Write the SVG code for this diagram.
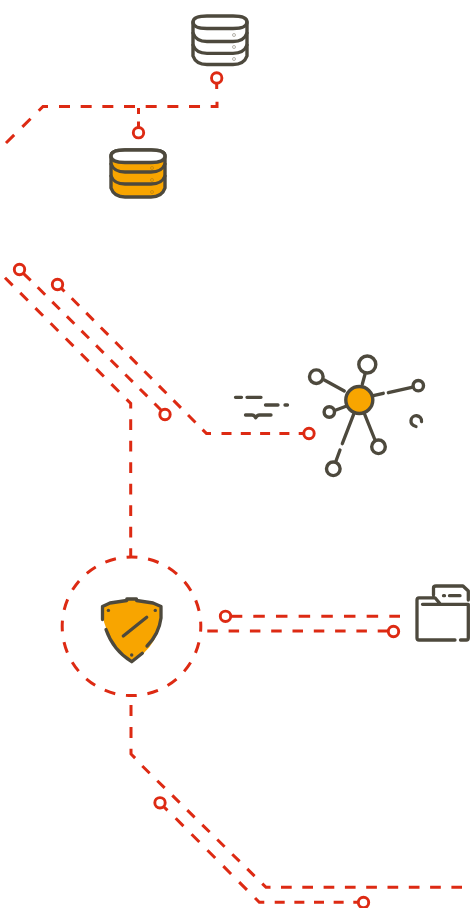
<svg xmlns="http://www.w3.org/2000/svg" width="470" height="908" viewBox="0 0 470 908">
<style>
path,circle{fill:none}
#connectors path,#connectors circle{stroke:#dd2a13;stroke-width:3}
#connectors circle.r{fill:#fff;stroke-width:2.9}
.i{stroke:#4d493d;stroke-width:3.3;stroke-linecap:round;stroke-linejoin:round}
path.w,circle.w{fill:#fff;stroke:#4d493d;stroke-width:3.4;stroke-linejoin:round}
path.o,circle.o{fill:#f8a500;stroke:#4d493d;stroke-width:3.4;stroke-linejoin:round}
path.f{fill:#f8a500}
circle.k{fill:#4d493d}
.d{stroke:#b5b2aa;stroke-width:1}
.e{stroke:#c98a10;stroke-width:1}
</style>
<g id="connectors">
<path stroke-dasharray="11.500 11.500" d="M6 143L43 106.500H48"/>
<path stroke-dasharray="11 10.670" d="M59 106.500H217V101"/>
<path d="M216.700 84V89"/>
<path d="M138.500 108V114M138.500 121.500V128"/>
<path stroke-dasharray="10.800 10.700" d="M5 277.700L130.700 403.400V551"/>
<path d="M130.700 551V557"/>
<path d="M23.300 273.300L30.700 280.300"/>
<path stroke-dasharray="10.500 10.100" d="M37.700 287.300L161 410"/>
<path d="M61 288L64.500 291.500"/>
<path stroke-dasharray="10.500 10.100" d="M71.700 298.300L206.500 433.500H211"/>
<path stroke-dasharray="10 9.300" d="M221.500 433.500H304"/>
<circle stroke-dasharray="11 10.770" stroke-dashoffset="5.500" cx="131.500" cy="626.300" r="69.300"/>
<path d="M230 616.300H242.300"/>
<path stroke-dasharray="11.500 11.170" d="M253.300 616.300H400"/>
<path stroke-dasharray="10.500 10.800" d="M207.300 631H388"/>
<path stroke-dasharray="11 10.900" d="M131 705V754L135.500 758.500"/>
<path stroke-dasharray="10.300 10.700" d="M142.300 766L266 887.300H270.500"/>
<path stroke-dasharray="10.700 10.600" d="M281 887.200H462"/>
<path d="M164 807L167.500 810.300"/>
<path stroke-dasharray="11 11.500" d="M175.700 818.300L259.300 902.300H264.500"/>
<path stroke-dasharray="10 9.650" d="M274.700 902.300H358"/>
<circle class="r" cx="216.700" cy="78" r="5.200"/>
<circle class="r" cx="138.500" cy="132.700" r="5.200"/>
<circle class="r" cx="19.500" cy="269.500" r="5.200"/>
<circle class="r" cx="57.500" cy="284.500" r="5.200"/>
<circle class="r" cx="165" cy="414.500" r="5.200"/>
<circle class="r" cx="309" cy="433.500" r="5.200"/>
<circle class="r" cx="225.500" cy="616.300" r="5.200"/>
<circle class="r" cx="393.500" cy="631.500" r="5.200"/>
<circle class="r" cx="160" cy="802.800" r="5.200"/>
<circle class="r" cx="363.500" cy="902.500" r="5.200"/>
</g>
<g id="db-white">
<path class="w" d="M193 22Q193 16 207 16H233Q247 16 247 22V56Q244 64.500 233 64.500H207Q196 64.500 193 56Z"/>
<path class="i" d="M193 22Q193 28.500 207 28.500H233Q247 28.500 247 22M193 33Q196 41.500 207 41.500H233Q244 41.500 247 33M193 45Q196 53.300 207 53.300H233Q244 53.300 247 45"/>
<circle class="d" cx="234" cy="35" r="1.500"/><circle class="d" cx="234" cy="47" r="1.500"/><circle class="d" cx="234" cy="59" r="1.500"/>
</g>
<g id="db-orange">
<path class="o" d="M111 156Q111 150 125 150H151Q165 150 165 156V188Q162 197 151 197H125Q114 197 111 188Z"/>
<path class="w" d="M111 156Q111 150 125 150H151Q165 150 165 156Q165 162.500 151 162.500H125Q111 162.500 111 156Z"/>
<path class="i" d="M111 164Q114 172 125 172H151Q162 172 165 164M111 176Q114 184 125 184H151Q162 184 165 176"/>
<circle class="e" cx="152" cy="168" r="1.500"/><circle class="e" cx="152" cy="180" r="1.500"/><circle class="e" cx="152" cy="192" r="1.500"/>
</g>
<g id="network">
<path class="i" d="M235.500 397.300H241.500M247 397.300H261M265.500 405H278M285 405H287.500M245.500 415H252Q254.500 415 255.700 417.800Q257 415 259.500 415H271"/>
<path class="i" d="M344.300 391L324.300 380M362.300 384.300L365 374.300M373.300 395.700L383.300 393.300M388.300 392.700L411.700 387.300M346.700 406L336 410M354 413.300L342.300 443.700M364.300 413.300L375 440M340 450L335.700 461.700"/>
<circle class="w" cx="367.300" cy="364.500" r="8.500"/>
<circle class="w" cx="316.300" cy="376.700" r="6.800"/>
<circle class="w" cx="418.300" cy="385.700" r="5.200"/>
<circle class="w" cx="329.300" cy="412" r="5.200"/>
<circle class="w" cx="378.500" cy="446.800" r="6.800"/>
<circle class="w" cx="333.300" cy="468.800" r="6.800"/>
<circle class="o" cx="359.300" cy="400" r="13.500"/>
<path class="i" d="M421.500 421.500A5 5 0 0 0 411 420.500Q410.500 425 416 426.500"/>
</g>
<g id="shield">
<path class="f" d="M103 606L127 600H136L161 606V620Q158 640 143 654L132 661Q112 648 104 622Z"/>
<path class="i" d="M106 629.500Q113 650 131.700 661.700L142.300 653.300M147 646Q159 634 161 618V606.500L153 603L136.500 600.500V599H126.800V600.500L110 603L102.500 606.500V619.500M123.300 636L146.700 617.300"/>
<circle class="k" cx="108.400" cy="610.400" r="1.700"/><circle class="k" cx="155.300" cy="610.400" r="1.700"/><circle class="k" cx="131.700" cy="655" r="1.700"/>
</g>
<g id="folder">
<path class="i" d="M433.500 595V588Q433.500 586 436 586H463L468.300 591V600M422.500 604.300H468.300V638Q468.300 640 466.300 640H460.500M455 640H419Q417 640 417 638V600Q417 597.800 419 597.800H435L440.500 604.300M443.500 595.700H444.500M449.500 595.700H460"/>
</g>
</svg>
